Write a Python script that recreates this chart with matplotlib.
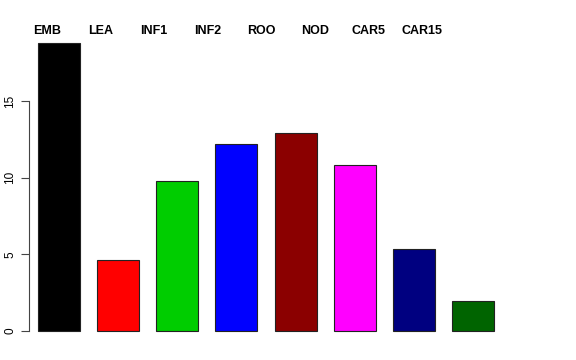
import numpy as np
import matplotlib
matplotlib.use("Agg")
import matplotlib.pyplot as plt

categories = ["EMB", "LEA", "INF1", "INF2", "ROO", "NOD", "CAR5", "CAR15"]
values = [18.8, 4.63, 9.78, 12.2, 12.9, 10.82, 5.35, 1.96]
colors = ["#000000", "#FF0000", "#00CD00", "#0000FF", "#8B0000", "#FF00FF", "#000080", "#006400"]
yticks = [0, 5, 10, 15]

W, H = 576, 360
fig = plt.figure(figsize=(W / 100, H / 100), dpi=100)
# plot region in pixels: left 29, right 547, top 31.4, bottom 342.5
ax = fig.add_axes([29 / W, (H - 342.5) / H, (547 - 29) / W, (342.5 - 31.4) / H])

x = np.arange(len(categories))
ax.bar(x, values, width=0.71, color=colors, edgecolor="#222222", linewidth=0.8)

ax.set_xlim(-0.507, -0.507 + 518 / 59.14)
ax.set_ylim(-0.75, 19.54)

for s in ["top", "right", "bottom"]:
    ax.spines[s].set_visible(False)
ax.spines["left"].set_bounds(0, 15)
ax.spines["left"].set_color("#444444")
ax.spines["left"].set_linewidth(0.8)
ax.set_xticks([])
ax.set_yticks(yticks)
ax.set_yticklabels([str(t) for t in yticks], rotation=90, va="center",
                   fontsize=8.5, family="Liberation Sans")
ax.tick_params(axis="y", length=6, width=0.8, color="#444444", pad=3)

# category labels along the top (R mtext style, not aligned with bars)
label_x = -0.2 + 0.905 * np.arange(len(categories))
for lx, name in zip(label_x, categories):
    ax.text(lx, 1.0 - 3.0 / 311, name, transform=ax.get_xaxis_transform(), ha="center",
            va="baseline", fontsize=9, fontweight="bold", family="Liberation Sans")

fig.savefig("out.png", dpi=100)
